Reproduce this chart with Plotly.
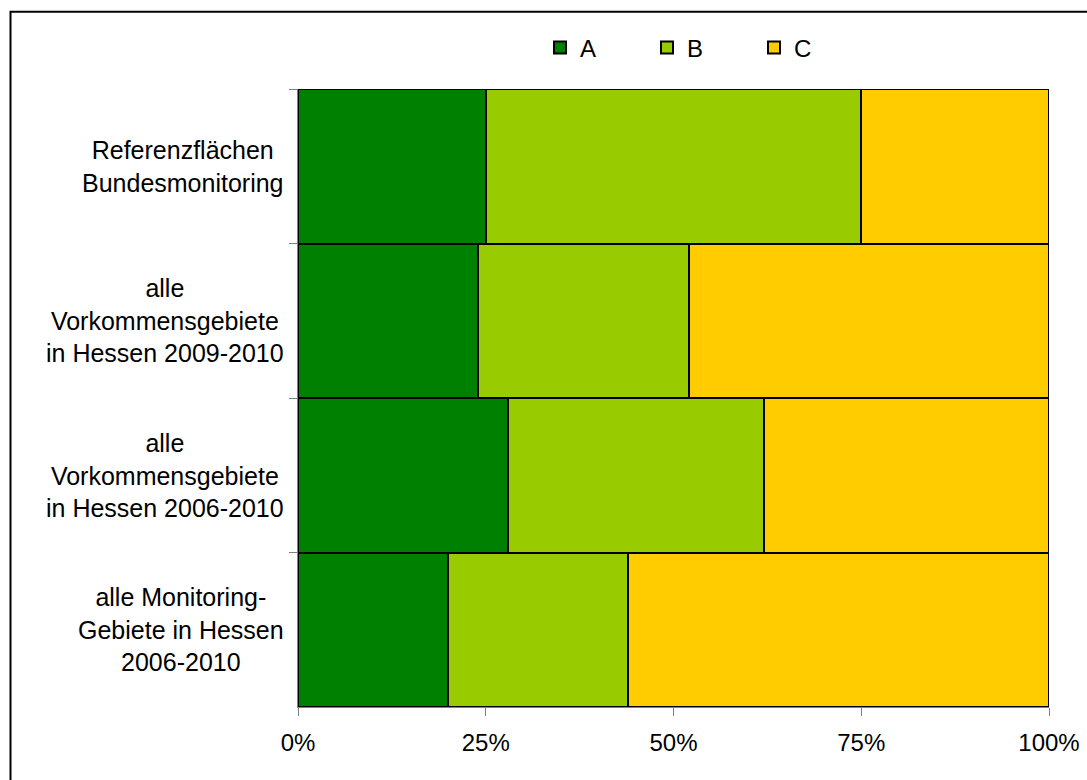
import plotly.graph_objects as go

categories = [
    "Referenzflächen<br>Bundesmonitoring",
    "alle<br>Vorkommensgebiete<br>in Hessen 2009-2010",
    "alle<br>Vorkommensgebiete<br>in Hessen 2006-2010",
    "alle Monitoring-<br>Gebiete in Hessen<br>2006-2010",
]
series_names = ["A", "B", "C"]
values_A = [25, 24, 28, 20]
values_B = [50, 28, 34, 24]
values_C = [25, 48, 38, 56]
colors = ["#008000", "#99CC00", "#FFCC00"]
x_ticks = [0, 25, 50, 75, 100]

W, H = 1087, 780
FONT = "Liberation Sans, Arial, sans-serif"

fig = go.Figure()
for name, vals, col in zip(series_names, [values_A, values_B, values_C], colors):
    fig.add_trace(go.Bar(
        y=categories, x=vals, name=name, orientation="h",
        marker=dict(color=col, line=dict(color="black", width=2)),
    ))

# category labels (centered multi-line) as annotations
for c in categories:
    fig.add_annotation(
        x=286 / W, xref="paper", y=c, yref="y", text=c, showarrow=False,
        xanchor="right", yanchor="middle", align="center",
        font=dict(family=FONT, size=25, color="black"),
    )

# outer frame
fig.add_shape(type="rect", xref="paper", yref="paper",
              x0=10.5 / W, y0=1 - 11.7 / H, x1=1.05, y1=-0.05,
              line=dict(color="black", width=2), fillcolor="rgba(0,0,0,0)")

fig.update_layout(
    width=W, height=H,
    margin=dict(l=0, r=0, t=0, b=0, autoexpand=False),
    paper_bgcolor="white", plot_bgcolor="white",
    barmode="stack", bargap=0,
    font=dict(family=FONT, size=24, color="black"),
    showlegend=True,
    legend=dict(
        orientation="h", x=540 / W, xanchor="left", y=1 - 48 / H, yanchor="middle",
        font=dict(family=FONT, size=24, color="black"),
        entrywidth=62, entrywidthmode="pixels", traceorder="normal",
        bgcolor="rgba(0,0,0,0)",
    ),
    xaxis=dict(
        domain=[298 / W, 1049 / W], range=[0, 100],
        tickvals=x_ticks, ticktext=[f"{v}%" for v in x_ticks],
        ticks="outside", ticklen=8, tickcolor="#808080", tickwidth=1,
        showline=True, linecolor="#808080", linewidth=1,
        showgrid=False, zeroline=False, ticklabelstandoff=6,
        automargin=False,
        tickfont=dict(family=FONT, size=24, color="black"),
    ),
    yaxis=dict(
        domain=[1 - 707 / H, 1 - 89 / H], autorange="reversed",
        showticklabels=False, tickson="boundaries",
        ticks="outside", ticklen=8, tickcolor="#808080", tickwidth=1,
        showline=True, linecolor="#808080", linewidth=1,
        showgrid=False, zeroline=False, automargin=False,
    ),
)

fig.write_html("out.html")
